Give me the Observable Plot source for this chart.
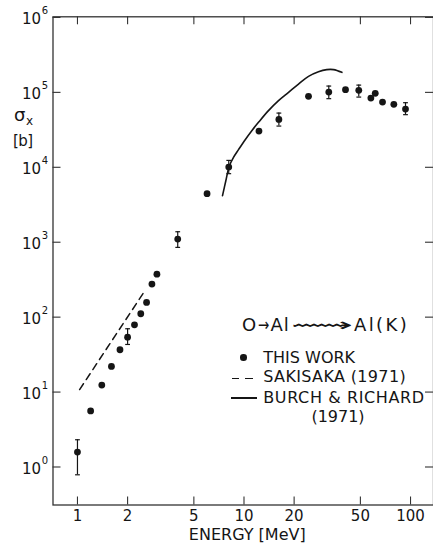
<!DOCTYPE html>
<html><head><meta charset="utf-8">
<script src="https://cdn.jsdelivr.net/npm/d3@7"></script>
<script src="https://cdn.jsdelivr.net/npm/@observablehq/plot@0.6"></script>
<style>
html,body{margin:0;padding:0;background:#fff;}
#wrap{position:relative;width:433px;height:552px;font-family:"DejaVu Sans",sans-serif;color:#151515;overflow:hidden;}
#wrap svg{display:block;}
.t{position:absolute;white-space:nowrap;line-height:1;}
.sym{position:absolute;}
</style></head><body><div id="wrap"></div>
<script>
// ---- data ----
const thisWorkEnergy = [1.0,1.2,1.4,1.6,1.8,2.0,2.2,2.4,2.6,2.8,3.0,4.0,6.0,8.1,12.3,16.2,24.4,32.3,40.7,48.9,57.8,61.4,67.9,79.4,93.3];
const thisWorkSigma  = [1.58,5.6,12.4,22,36.7,54,79,111,157,276,375,1100,4440,10060,30400,43600,88500,100900,108700,106400,83900,97000,74200,69200,59800];
const errEnergy = [1.0,2.0,4.0,8.1,16.2,32.3,48.9,93.3];
const errLow    = [0.787,43.2,853,8220,35500,82400,86500,50400];
const errHigh   = [2.31,70,1380,12360,52900,121400,125000,72800];
const sakisakaEnergy = [1.03,2.53];
const sakisakaSigma  = [10.8,222];
const burchEnergy = [7.43,7.78,8.15,8.65,9.27,10.17,11.14,12.22,14.03,16.12,18.51,21.25,24.4,28.0,31.4,34.5,38.7];
const burchSigma  = [4180,6620,10280,13550,17180,23370,30830,39800,57000,77500,100000,129100,163700,188900,201000,201000,185000];
const xTicks = [1,2,5,10,20,50,100];
const xTickLabels = ["1","2","5","10","20","50","100"];
const yTicks = [1,10,100,1e3,1e4,1e5,1e6];
const yTickExponents = ["0","1","2","3","4","5","6"];
const xDomain = [0.713,137.4];
const yDomain = [0.311,1.02e6];

// ---- tables ----
const thisWork = thisWorkEnergy.map((e,i)=>({e, s:thisWorkSigma[i]}));
const errs = errEnergy.map((e,i)=>({e, lo:errLow[i], hi:errHigh[i]}));
const sakisaka = sakisakaEnergy.map((e,i)=>({e, s:sakisakaSigma[i]}));
const burch = burchEnergy.map((e,i)=>({e, s:burchSigma[i]}));

const W=433, H=552, mL=52.5, mR=0, mT=16.3, mB=47.5;
const frameW=W-mL-mR, frameH=H-mT-mB, tickLen=8;
const ink="#151515";
const capSymbol = {draw(ctx,size){const w=Math.sqrt(size/Math.PI); ctx.moveTo(-w,0); ctx.lineTo(w,0);}};

const chart = Plot.plot({
  width:W, height:H, marginLeft:mL, marginRight:mR, marginTop:mT, marginBottom:mB,
  style:{fontFamily:"'DejaVu Sans', sans-serif", color:ink, background:"#fff"},
  x:{type:"log", domain:xDomain, axis:null},
  y:{type:"log", domain:yDomain, axis:null},
  marks:[
    Plot.frame({stroke:"#333", strokeWidth:1.3}),
    Plot.tickX(xTicks,{x:d=>d, insetTop:frameH-tickLen, stroke:"#333", strokeWidth:1.1}),
    Plot.tickX(xTicks,{x:d=>d, insetBottom:frameH-tickLen, stroke:"#333", strokeWidth:1.1}),
    Plot.tickY(yTicks,{y:d=>d, insetRight:frameW-tickLen, stroke:"#333", strokeWidth:1.1}),
    Plot.tickY(yTicks,{y:d=>d, insetLeft:frameW-tickLen, stroke:"#333", strokeWidth:1.1}),
    Plot.text(xTicks,{x:d=>d, text:(d,i)=>xTickLabels[i], frameAnchor:"bottom", dy:15.5, fontSize:15, fill:ink}),
    Plot.text(yTicks,{y:d=>d, text:()=>"10", frameAnchor:"left", dx:-12, dy:2, textAnchor:"end", fontSize:15, fill:ink}),
    Plot.text(yTicks,{y:d=>d, text:(d,i)=>yTickExponents[i], frameAnchor:"left", dx:-11.2, dy:-6.3, textAnchor:"start", fontSize:10, fill:ink}),
    Plot.line(sakisaka,{x:"e", y:"s", stroke:ink, strokeWidth:1.5, strokeDasharray:"7,5"}),
    Plot.line(burch,{x:"e", y:"s", stroke:ink, strokeWidth:1.6, curve:"catmull-rom"}),
    Plot.ruleX(errs,{x:"e", y1:"lo", y2:"hi", stroke:ink, strokeWidth:1.2}),
    Plot.dot(errs,{x:"e", y:"lo", symbol:capSymbol, r:2.4, fill:"none", stroke:ink, strokeWidth:1.2}),
    Plot.dot(errs,{x:"e", y:"hi", symbol:capSymbol, r:2.4, fill:"none", stroke:ink, strokeWidth:1.2}),
    Plot.dot(thisWork,{x:"e", y:"s", r:3.4, fill:ink, stroke:"none"}),
    Plot.text(["ENERGY [MeV]"],{text:d=>d, frameAnchor:"bottom", dx:4, dy:34.5, fontSize:16, fill:ink, ariaLabel:"xlabel"})
  ]
});
d3.select(chart).selectAll('g[aria-label="xlabel"] text').attr("letter-spacing","2");
const wrap = document.getElementById("wrap");
wrap.appendChild(chart);

// ---- overlay: axis label and legend ----
function add(html, style, cls="t"){const d=document.createElement("div"); d.className=cls; d.innerHTML=html; Object.assign(d.style,style); wrap.appendChild(d); return d;}
add("σ",{left:"14px",top:"106.4px",fontSize:"18px"});
add("x",{left:"26px",top:"114.6px",fontSize:"12px"});
add("[b]",{left:"13px",top:"133.6px",fontSize:"15px",letterSpacing:"-0.5px"});

// legend title: O → Al ⟿ Al(K)
const titleTop = "316.3px", titleSize = "18px";
add("O",{left:"242px",top:titleTop,fontSize:titleSize});
add("→",{left:"257.5px",top:titleTop,fontSize:titleSize,transform:"scaleX(0.75)",transformOrigin:"left center"});
add("Al",{left:"270.5px",top:titleTop,fontSize:titleSize,letterSpacing:"1px"});
add("⟿",{left:"291px",top:titleTop,fontSize:titleSize,transformOrigin:"left center"}).id="sq";
add("Al(K)",{left:"354px",top:titleTop,fontSize:titleSize,letterSpacing:"2.4px"});
const sq=document.getElementById("sq"); const sw=sq.getBoundingClientRect().width||1; sq.style.transform=`scaleX(${62/sw})`;

add("",{left:"240px",top:"354.2px",width:"6.6px",height:"6.6px",borderRadius:"50%",background:ink},"sym");
add("THIS WORK",{left:"263.3px",top:"349.8px",fontSize:"16px"});
add("",{left:"231.7px",top:"377.6px",width:"21.6px",height:"1.5px",background:`repeating-linear-gradient(90deg, ${ink} 0 7.5px, transparent 7.5px 13.5px)`},"sym");
add("SAKISAKA (1971)",{left:"263.3px",top:"369.3px",fontSize:"16px",letterSpacing:"0.35px"});
add("",{left:"230.7px",top:"397px",width:"26px",height:"1.5px",background:ink},"sym");
add("BURCH &amp; RICHARD",{left:"263.3px",top:"389.8px",fontSize:"16px",letterSpacing:"0.6px"});
add("(1971)",{left:"338px",top:"409.3px",fontSize:"16px",transform:"translateX(-50%)"});
</script>
</body></html>
